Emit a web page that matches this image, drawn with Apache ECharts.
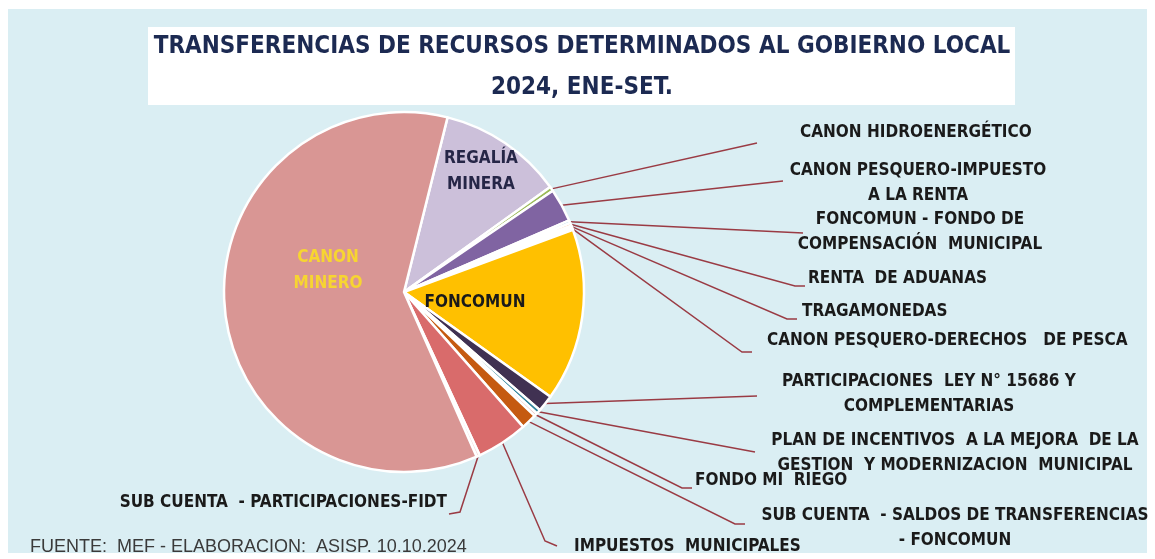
<!DOCTYPE html>
<html>
<head>
<meta charset="utf-8">
<script src="https://cdn.jsdelivr.net/npm/echarts@6/dist/echarts.min.js"></script>
<style>
html,body{margin:0;padding:0;background:#ffffff;}
#chart{width:1155px;height:559px;}
</style>
</head>
<body>
<div id="chart"></div>
<script>
// ---- data (clockwise order) ----
var categories = [
  'REGALÍA\nMINERA',
  'CANON HIDROENERGÉTICO',
  'CANON PESQUERO-IMPUESTO\nA LA RENTA',
  'FONCOMUN - FONDO DE\nCOMPENSACIÓN  MUNICIPAL',
  'RENTA  DE ADUANAS',
  'TRAGAMONEDAS',
  'CANON PESQUERO-DERECHOS   DE PESCA',
  'FONCOMUN',
  'PARTICIPACIONES  LEY N° 15686 Y\nCOMPLEMENTARIAS',
  'PLAN DE INCENTIVOS  A LA MEJORA  DE LA\nGESTION  Y MODERNIZACION  MUNICIPAL',
  'FONDO MI  RIEGO',
  'SUB CUENTA  - SALDOS DE TRANSFERENCIAS\n- FONCOMUN',
  'IMPUESTOS  MUNICIPALES',
  'SUB CUENTA  - PARTICIPACIONES-FIDT',
  'CANON\nMINERO'
];
var shares = [11.2, 0.4, 3.0, 0.25, 0.25, 0.2, 0.2, 15.5, 1.5, 0.4, 0.3, 1.4, 4.6, 0.3, 60.5];
var sliceColors = ['#ccc0da','#9bbb59','#8064a2','#4bacc6','#f79646','#b7dee8','#d7e4bd','#ffc000','#403152','#31859c','#e6b9b8','#c55a11','#d96b6b','#f2dcdb','#d99694'];

// label placement (pixel anchor, alignment, and leader-line end points)
var labelAnchors = [
  [481,172,'center'],
  [800,133,'left'],
  [918,183,'center'],
  [920,232,'center'],
  [808,279,'left'],
  [802,312,'left'],
  [767,341,'left'],
  [475,303,'center'],
  [929,394,'center'],
  [955,453,'center'],
  [695,481,'left'],
  [955,528,'center'],
  [574,547,'left'],
  [447,503,'right'],
  [328,271,'center']
];
var lineEnds = [
  null,
  [[757,143],[757,143]],
  [[783,181],[783,181]],
  [[803,233],[803,233]],
  [[795,286],[805,286]],
  [[787,319],[797,319]],
  [[742,352],[752,352]],
  null,
  [[757,396],[757,396]],
  [[755,452],[755,452]],
  [[682,488],[692,488]],
  [[735,524],[745,524]],
  [[545,541],[557,546]],
  [[460,512],[449,514]],
  null
];
var insideIdx = [0, 7, 14];
var insideColors = {0:'#262647', 7:'#1a1a1a', 14:'#f7d531'};

var FONT = "'Liberation Sans Narrow','Arial Narrow','DejaVu Sans Condensed',sans-serif";

var chart = echarts.init(document.getElementById('chart'), null, {renderer:'canvas'});

var seriesData = categories.map(function(name, i){
  var inside = insideIdx.indexOf(i) >= 0;
  return {
    name: name,
    value: shares[i],
    itemStyle: {color: sliceColors[i]},
    label: inside ? {position:'inside', color: insideColors[i], fontSize: 17, lineHeight: 26} : {position:'outside'},
    labelLine: {show: !inside}
  };
});

chart.setOption({
  animation: false,
  backgroundColor: '#ffffff',
  graphic: [
    {type:'rect', z:-10, shape:{x:8,y:9,width:1139,height:544}, style:{fill:'#daeef3'}},
    {type:'rect', z:-9, shape:{x:148,y:27,width:867,height:78}, style:{fill:'#ffffff'}},
    {type:'text', z:-8, x:582, y:47, style:{text:'TRANSFERENCIAS DE RECURSOS DETERMINADOS AL GOBIERNO LOCAL', font:'bold 24px ' + FONT, fill:'#1c2a52', textAlign:'center', textVerticalAlign:'middle'}},
    {type:'text', z:-8, x:582, y:88, style:{text:'2024, ENE-SET.', font:'bold 24px ' + FONT, fill:'#1c2a52', textAlign:'center', textVerticalAlign:'middle'}},
    {type:'text', z:-8, x:30, y:547, style:{text:'FUENTE:  MEF - ELABORACION:  ASISP. 10.10.2024', font:"18px 'Liberation Sans',Arial,sans-serif", fill:'#3a3a3a', textAlign:'left', textVerticalAlign:'middle'}}
  ],
  series: [{
    type: 'pie',
    center: [404, 292],
    radius: 180,
    startAngle: 76,
    clockwise: true,
    avoidLabelOverlap: false,
    minAngle: 0,
    itemStyle: {borderColor:'#ffffff', borderWidth: 2.5},
    label: {
      show: true,
      fontFamily: FONT,
      fontWeight: 'bold',
      fontSize: 17,
      color: '#1a1a1a',
      lineHeight: 25,
      formatter: '{b}'
    },
    labelLine: {show: true, length: 20, length2: 20, lineStyle: {color:'#9a3b44', width: 1.5}},
    labelLayout: function(p){
      var i = p.dataIndex;
      var a = labelAnchors[i];
      var out = {x: a[0], y: a[1], align: a[2], verticalAlign: 'middle'};
      if (lineEnds[i] && p.labelLinePoints) {
        var s = p.labelLinePoints[0];
        out.labelLinePoints = [[s[0], s[1]], lineEnds[i][0], lineEnds[i][1]];
      }
      return out;
    },
    emphasis: {disabled: true},
    data: seriesData
  }]
});
</script>
</body>
</html>
